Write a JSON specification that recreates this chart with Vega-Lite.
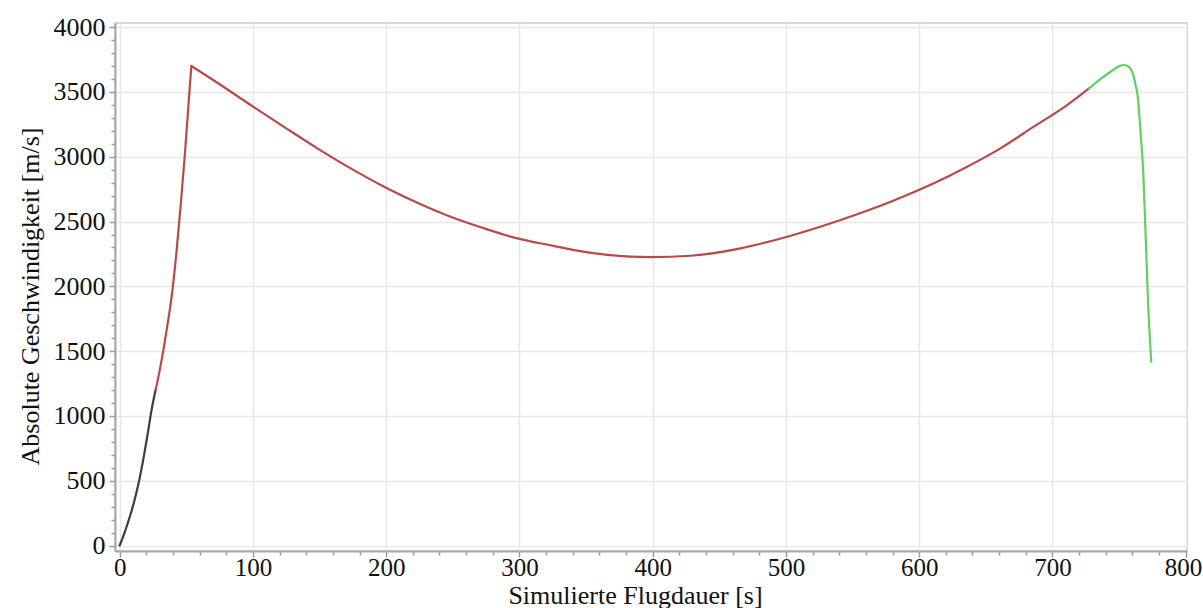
{
  "$schema": "https://vega.github.io/schema/vega-lite/v6.json",
  "width": 1072,
  "height": 528,
  "autosize": {"type": "none"},
  "padding": {"left": 115, "top": 23, "right": 16, "bottom": 57},
  "background": "white",
  "config": {
    "view": {"stroke": "#d6d6d6", "strokeWidth": 2},
    "font": "Liberation Serif"
  },
  "data": {
    "values": [
      {"t": 0, "v": 0, "phase": "Stufe 1", "abschnitt": "Stufe 1"},
      {"t": 3, "v": 80, "phase": "Stufe 1", "abschnitt": "Stufe 1"},
      {"t": 6, "v": 170, "phase": "Stufe 1", "abschnitt": "Stufe 1"},
      {"t": 9, "v": 270, "phase": "Stufe 1", "abschnitt": "Stufe 1"},
      {"t": 12, "v": 385, "phase": "Stufe 1", "abschnitt": "Stufe 1"},
      {"t": 15, "v": 520, "phase": "Stufe 1", "abschnitt": "Stufe 1"},
      {"t": 18, "v": 680, "phase": "Stufe 1", "abschnitt": "Stufe 1"},
      {"t": 21, "v": 860, "phase": "Stufe 1", "abschnitt": "Stufe 1"},
      {"t": 24, "v": 1050, "phase": "Stufe 1", "abschnitt": "Stufe 1"},
      {"t": 27, "v": 1200, "phase": "Stufe 1", "abschnitt": "Stufe 1"},

      {"t": 27, "v": 1200, "phase": "Stufe 2", "abschnitt": "Schub"},
      {"t": 30, "v": 1350, "phase": "Stufe 2", "abschnitt": "Schub"},
      {"t": 33, "v": 1520, "phase": "Stufe 2", "abschnitt": "Schub"},
      {"t": 36, "v": 1710, "phase": "Stufe 2", "abschnitt": "Schub"},
      {"t": 39.5, "v": 1960, "phase": "Stufe 2", "abschnitt": "Schub"},
      {"t": 42.5, "v": 2250, "phase": "Stufe 2", "abschnitt": "Schub"},
      {"t": 45.5, "v": 2590, "phase": "Stufe 2", "abschnitt": "Schub"},
      {"t": 48.8, "v": 3000, "phase": "Stufe 2", "abschnitt": "Schub"},
      {"t": 51.5, "v": 3380, "phase": "Stufe 2", "abschnitt": "Schub"},
      {"t": 53.8, "v": 3700, "phase": "Stufe 2", "abschnitt": "Schub"},

      {"t": 53.8, "v": 3700, "phase": "Stufe 2", "abschnitt": "Freiflug"},
      {"t": 73.3, "v": 3571, "phase": "Stufe 2", "abschnitt": "Freiflug"},
      {"t": 98.3, "v": 3399, "phase": "Stufe 2", "abschnitt": "Freiflug"},
      {"t": 123.3, "v": 3231, "phase": "Stufe 2", "abschnitt": "Freiflug"},
      {"t": 148.4, "v": 3065, "phase": "Stufe 2", "abschnitt": "Freiflug"},
      {"t": 173.4, "v": 2910, "phase": "Stufe 2", "abschnitt": "Freiflug"},
      {"t": 198.4, "v": 2769, "phase": "Stufe 2", "abschnitt": "Freiflug"},
      {"t": 223.4, "v": 2645, "phase": "Stufe 2", "abschnitt": "Freiflug"},
      {"t": 248.4, "v": 2537, "phase": "Stufe 2", "abschnitt": "Freiflug"},
      {"t": 273.4, "v": 2448, "phase": "Stufe 2", "abschnitt": "Freiflug"},
      {"t": 298.5, "v": 2370, "phase": "Stufe 2", "abschnitt": "Freiflug"},
      {"t": 323.5, "v": 2316, "phase": "Stufe 2", "abschnitt": "Freiflug"},
      {"t": 341, "v": 2280, "phase": "Stufe 2", "abschnitt": "Freiflug"},
      {"t": 366, "v": 2243, "phase": "Stufe 2", "abschnitt": "Freiflug"},
      {"t": 398.5, "v": 2225, "phase": "Stufe 2", "abschnitt": "Freiflug"},
      {"t": 428.5, "v": 2236, "phase": "Stufe 2", "abschnitt": "Freiflug"},
      {"t": 466, "v": 2293, "phase": "Stufe 2", "abschnitt": "Freiflug"},
      {"t": 501, "v": 2383, "phase": "Stufe 2", "abschnitt": "Freiflug"},
      {"t": 541, "v": 2512, "phase": "Stufe 2", "abschnitt": "Freiflug"},
      {"t": 578.6, "v": 2653, "phase": "Stufe 2", "abschnitt": "Freiflug"},
      {"t": 611, "v": 2795, "phase": "Stufe 2", "abschnitt": "Freiflug"},
      {"t": 636, "v": 2923, "phase": "Stufe 2", "abschnitt": "Freiflug"},
      {"t": 661, "v": 3065, "phase": "Stufe 2", "abschnitt": "Freiflug"},
      {"t": 686, "v": 3232, "phase": "Stufe 2", "abschnitt": "Freiflug"},
      {"t": 711, "v": 3399, "phase": "Stufe 2", "abschnitt": "Freiflug"},
      {"t": 727.5, "v": 3528, "phase": "Stufe 2", "abschnitt": "Freiflug"},

      {"t": 727.5, "v": 3528, "phase": "Endphase", "abschnitt": "Endphase"},
      {"t": 735, "v": 3592, "phase": "Endphase", "abschnitt": "Endphase"},
      {"t": 743.7, "v": 3656, "phase": "Endphase", "abschnitt": "Endphase"},
      {"t": 749.9, "v": 3698, "phase": "Endphase", "abschnitt": "Endphase"},
      {"t": 753.7, "v": 3708, "phase": "Endphase", "abschnitt": "Endphase"},
      {"t": 757.4, "v": 3694, "phase": "Endphase", "abschnitt": "Endphase"},
      {"t": 760.7, "v": 3630, "phase": "Endphase", "abschnitt": "Endphase"},
      {"t": 762.7, "v": 3540, "phase": "Endphase", "abschnitt": "Endphase"},
      {"t": 763.7, "v": 3489, "phase": "Endphase", "abschnitt": "Endphase"},
      {"t": 766.2, "v": 3181, "phase": "Endphase", "abschnitt": "Endphase"},
      {"t": 768.2, "v": 2872, "phase": "Endphase", "abschnitt": "Endphase"},
      {"t": 770, "v": 2380, "phase": "Endphase", "abschnitt": "Endphase"},
      {"t": 771.7, "v": 1894, "phase": "Endphase", "abschnitt": "Endphase"},
      {"t": 774.2, "v": 1418, "phase": "Endphase", "abschnitt": "Endphase"}
    ]
  },
  "mark": {"type": "line", "strokeWidth": 2.2, "interpolate": "monotone", "strokeJoin": "round", "strokeCap": "round"},
  "encoding": {
    "x": {
      "field": "t",
      "type": "quantitative",
      "scale": {"domain": [-3.5, 801], "nice": false, "zero": false},
      "axis": {
        "title": "Simulierte Flugdauer [s]",
        "values": [0,20,40,60,80,100,120,140,160,180,200,220,240,260,280,300,320,340,360,380,400,420,440,460,480,500,520,540,560,580,600,620,640,660,680,700,720,740,760,780,800],
        "labelExpr": "datum.value % 100 === 0 ? datum.label : ''",
        "labelOverlap": false,
        "labelFlush": 3,
        "labelFlushOffset": 16,
        "grid": true,
        "gridColor": "#e8e8e8",
        "gridWidth": 1.5,
        "gridOpacity": {"condition": {"test": "datum.value % 100 === 0", "value": 1}, "value": 0},
        "tickSize": {"condition": {"test": "datum.value % 100 === 0", "value": 6}, "value": 4},
        "tickColor": "#9a9a9a",
        "tickWidth": 1.5,
        "domainColor": "#a8a8a8",
        "domainWidth": 2,
        "labelFont": "Liberation Serif",
        "labelFontSize": 25,
        "labelColor": "#111111",
        "labelPadding": -2,
        "titleFont": "Liberation Serif",
        "titleFontSize": 26,
        "titleFontWeight": "normal",
        "titleColor": "#111111",
        "titleBaseline": "alphabetic",
        "titleX": 520,
        "titleY": 52
      }
    },
    "y": {
      "field": "v",
      "type": "quantitative",
      "scale": {"domain": [-42, 4032], "nice": false, "zero": false},
      "axis": {
        "title": "Absolute Geschwindigkeit [m/s]",
        "values": [0,100,200,300,400,500,600,700,800,900,1000,1100,1200,1300,1400,1500,1600,1700,1800,1900,2000,2100,2200,2300,2400,2500,2600,2700,2800,2900,3000,3100,3200,3300,3400,3500,3600,3700,3800,3900,4000],
        "labelExpr": "datum.value % 500 === 0 ? datum.label : ''",
        "format": "d",
        "labelOverlap": false,
        "labelFlush": false,
        "grid": true,
        "gridColor": "#e8e8e8",
        "gridWidth": 1.5,
        "gridOpacity": {"condition": {"test": "datum.value % 500 === 0", "value": 1}, "value": 0},
        "tickSize": {"condition": {"test": "datum.value % 500 === 0", "value": 6}, "value": 4},
        "tickColor": "#9a9a9a",
        "tickWidth": 1.5,
        "domainColor": "#a8a8a8",
        "domainWidth": 2,
        "labelFont": "Liberation Serif",
        "labelFontSize": 26,
        "labelColor": "#111111",
        "labelPadding": 4,
        "titleFont": "Liberation Serif",
        "titleFontSize": 26,
        "titleFontWeight": "normal",
        "titleColor": "#111111",
        "titleBaseline": "alphabetic",
        "titleAngle": -90,
        "titleX": -77,
        "titleY": 273
      }
    },
    "color": {
      "field": "phase",
      "type": "nominal",
      "scale": {"domain": ["Stufe 1", "Stufe 2", "Endphase"], "range": ["#3d3d3d", "#b94a4a", "#62cf62"]},
      "legend": null
    },
    "detail": {"field": "abschnitt", "type": "nominal"}
  }
}
